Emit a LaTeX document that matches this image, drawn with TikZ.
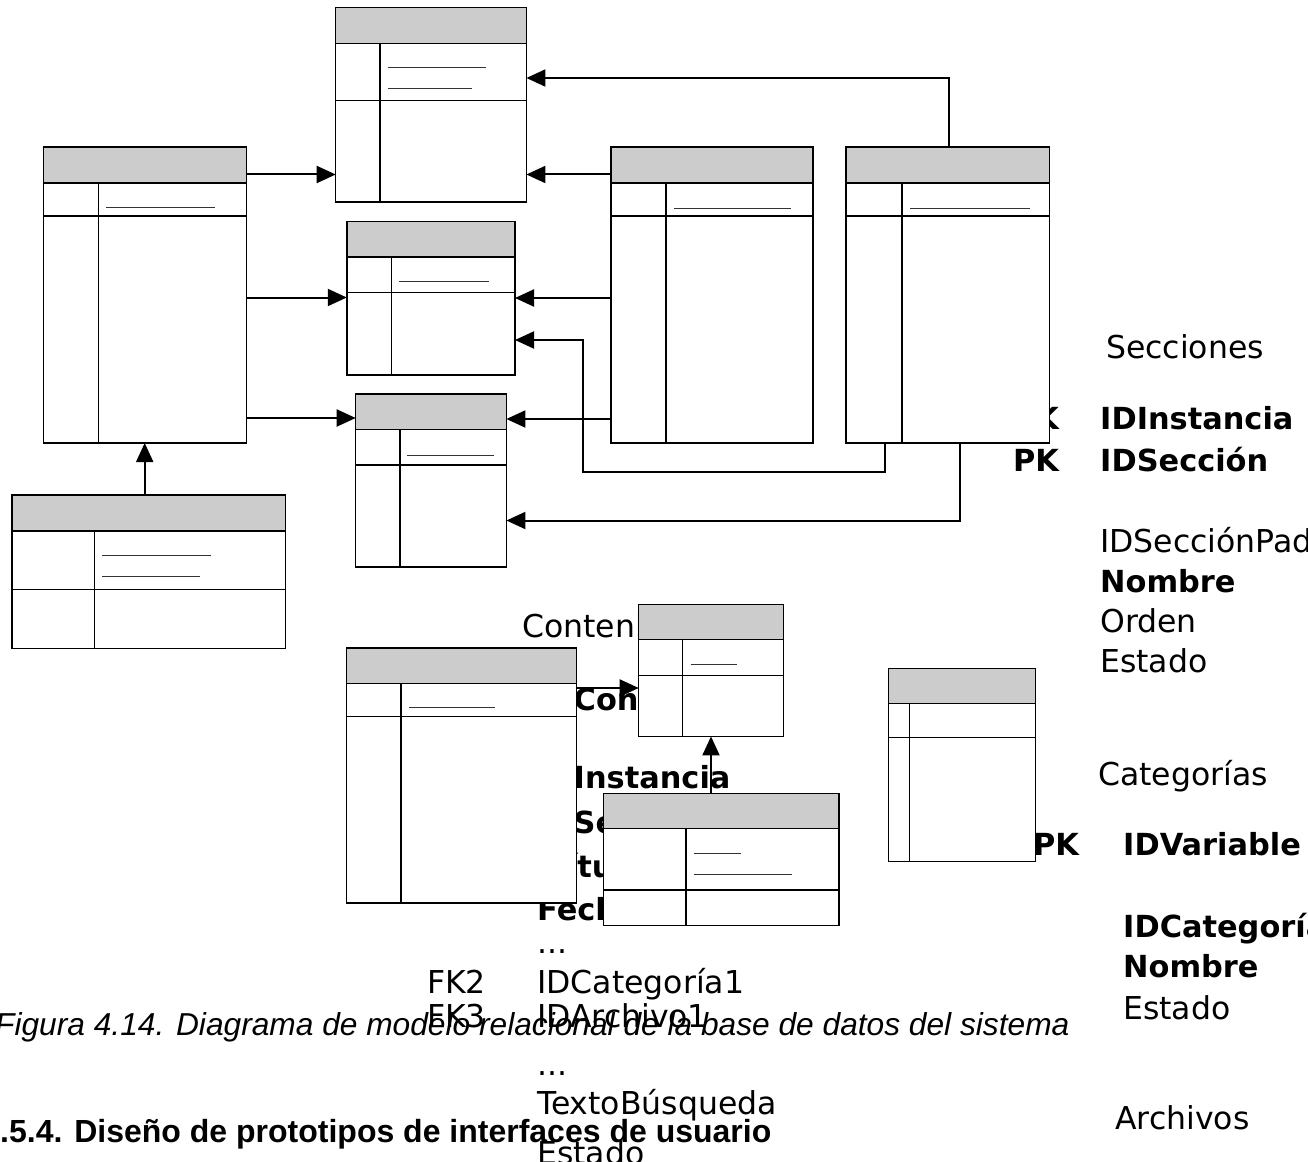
\documentclass[tikz,border=0pt]{standalone}
\usepackage{fontspec}
\usetikzlibrary{arrows.meta}
\setmainfont{DejaVu Sans}
\newfontfamily\capfont{Liberation Sans}
\newcommand\fieldreg{\fontsize{31.5}{36}\selectfont}
\newcommand\fieldbold{\fontsize{30.4}{36}\selectfont\bfseries}
\definecolor{hdrgray}{HTML}{CCCCCC}

\tikzset{
  tblfill/.style={fill=white, draw=none, inner sep=0pt, outer sep=0pt},
  tblline/.style={draw=black, line width=1.4pt},
  hdrfill/.style={fill=hdrgray},
  uline/.style={draw=black!80, line width=1pt},
  conn/.style={draw=black, line width=2pt, -{Triangle[length=19pt,width=17pt]}},
  fld/.style={anchor=base west, inner sep=0pt, font=\fieldreg},
  fldb/.style={anchor=base west, inner sep=0pt, font=\fieldbold},
}

% entity box: name, x1, y1, x2, header bottom, key row bottom, y2, column x
\newcommand\erTable[8]{%
  \node[tblfill, minimum width={(#4-#2)*1pt}, minimum height={(#7-#3)*1pt},
        anchor=north west] (#1) at (#2,#3) {};
  \fill[hdrfill] (#2,#3) rectangle (#4,#5);
  \draw[tblline] (#2,#3) rectangle (#4,#7);
  \draw[tblline] (#2,#5) -- (#4,#5) (#2,#6) -- (#4,#6) (#8,#5) -- (#8,#7);
}

\begin{document}
\begin{tikzpicture}[x=1pt,y=-1pt]
\useasboundingbox (0,0) rectangle (1308,1161);
\clip (0,0) rectangle (1308,1161);
\fill[white] (0,0) rectangle (1308,1161);

% ---- Secciones listing
\node[fld]  (secT)  at (1106,358) {Secciones};
\node[fldb] (secK1) at (1013,429) {PK};
\node[fldb] (secF1) at (1100,429) {IDInstancia};
\node[fldb] (secK2) at (1013,471) {PK};
\node[fldb] (secF2) at (1100,471) {IDSección};
\node[fld]  (secF3) at (1100,552) {IDSecciónPadre};
\node[fldb] (secF4) at (1100,592) {Nombre};
\node[fld]  (secF5) at (1100,632) {Orden};
\node[fld]  (secF6) at (1100,672) {Estado};

% ---- Categorías listing
\node[fld]  (catT)  at (1098,785) {Categorías};
\node[fldb] (catK1) at (1033,855) {PK};
\node[fldb] (catF1) at (1123,855) {IDVariable};
\node[fldb] (catF2) at (1123,937) {IDCategoría};
\node[fldb] (catF3) at (1123,977) {Nombre};
\node[fld]  (catF4) at (1123,1019) {Estado};
\node[fld]  (arcT)  at (1115,1129) {Archivos};

% ---- Contenidos listing
\node[fld]  (conT)  at (522,637) {Contenidos};
\node[fldb] (conF1) at (537,710) {IDContenido};
\node[fldb] (conF2) at (537,788) {IDInstancia};
\node[fldb] (conF3) at (537,833) {IDSección};
\node[fldb] (conF4) at (546,877) {Título};
\node[fldb] (conF5) at (537,920) {Fecha};
\node[fld]  (conD1) at (537,953) {...};
\node[fld]  (conK2) at (427,993) {FK2};
\node[fld]  (conF6) at (537,993) {IDCategoría1};
\node[fld]  (conK3) at (427,1027) {FK3};
\node[fld]  (conF7) at (537,1027) {IDArchivo1};
\node[fld]  (conD2) at (537,1075) {...};
\node[fld]  (conF8) at (537,1114) {TextoBúsqueda};
\node[fld]  (conF9) at (537,1164) {Estado};

% ---- caption and heading
\node[anchor=base west, inner sep=0pt, font=\capfont\itshape\fontsize{31.7}{36}\selectfont]
  (cap) at (-5,1035) {Figura 4.14. Diagrama de modelo relacional de la base de datos del sistema};
\node[anchor=base west, inner sep=0pt, font=\capfont\bfseries\fontsize{32}{36}\selectfont]
  (hd) at (0,1142) {.5.4. Diseño de prototipos de interfaces de usuario};

% ---- entity boxes
\erTable{A}{335.7}{7.7}{526.4}{43.5}{100.5}{202}{380}
\draw[uline] (387.5,68) -- (485.7,68) (387.5,88.7) -- (471.8,88.7);
\erTable{B}{43.2}{147}{246.4}{183}{216}{443}{98.6}
\draw[uline] (106.4,207.3) -- (215.4,207.3);
\erTable{C}{346.8}{221.5}{515}{257}{292.5}{375}{391.4}
\draw[uline] (398.6,281.5) -- (489.3,281.5);
\erTable{D}{355.7}{394}{506.4}{429.5}{465}{567}{400}
\draw[uline] (407,455.5) -- (494,455.5);
\erTable{E}{610.8}{147}{813}{183}{216}{443}{666}
\draw[uline] (674.4,208.5) -- (791.4,208.5);
\erTable{F}{846}{147}{1049.5}{183}{216}{443}{902}
\draw[uline] (910,208.5) -- (1029.6,208.5);
\erTable{G}{888.3}{668.3}{1035.7}{703.3}{737.7}{861.7}{909.7}
\erTable{H}{638.7}{604.3}{783.3}{639.3}{675.7}{736.4}{682.7}
\draw[uline] (690.7,664.3) -- (737.3,664.3);
\erTable{I}{346.7}{648}{576.7}{683.6}{716.4}{903}{401}
\draw[uline] (409,707) -- (495,707);
\erTable{J}{603.3}{793.6}{839}{828.6}{890}{925.7}{686}
\draw[uline] (694,853.6) -- (740.7,853.6) (694,874) -- (791.7,874);
\erTable{K}{12}{495}{285.3}{531}{589.3}{648.3}{94.3}
\draw[uline] (102,555.7) -- (211,555.7) (102,576) -- (200,576);

% ---- relationships
\draw[conn] (B.east |- 0,174.5) -- (A.west |- 0,174.5);
\draw[conn] (B.east |- 0,297.5) -- (C.west |- 0,297.5);
\draw[conn] (B.east |- 0,418) -- (D.west |- 0,418);
\draw[conn] (K.north -| 144.7,0) -- (B.south -| 144.7,0);
\draw[conn] (F.north -| 949,0) |- (A.east |- 0,78);
\draw[conn] (E.west |- 0,174.5) -- (A.east |- 0,174.5);
\draw[conn] (E.west |- 0,298) -- (C.east |- 0,298);
\draw[conn] (F.south -| 885,0) |- (583,472) |- (C.east |- 0,340);
\draw[conn] (E.west |- 0,419) -- (D.east |- 0,419);
\draw[conn] (F.south -| 960,0) |- (D.east |- 0,520.5);
\draw[conn] (I.east |- 0,688) -- (H.west |- 0,688);
\draw[conn] (J.north -| 711,0) -- (H.south -| 711,0);
\end{tikzpicture}
\end{document}
